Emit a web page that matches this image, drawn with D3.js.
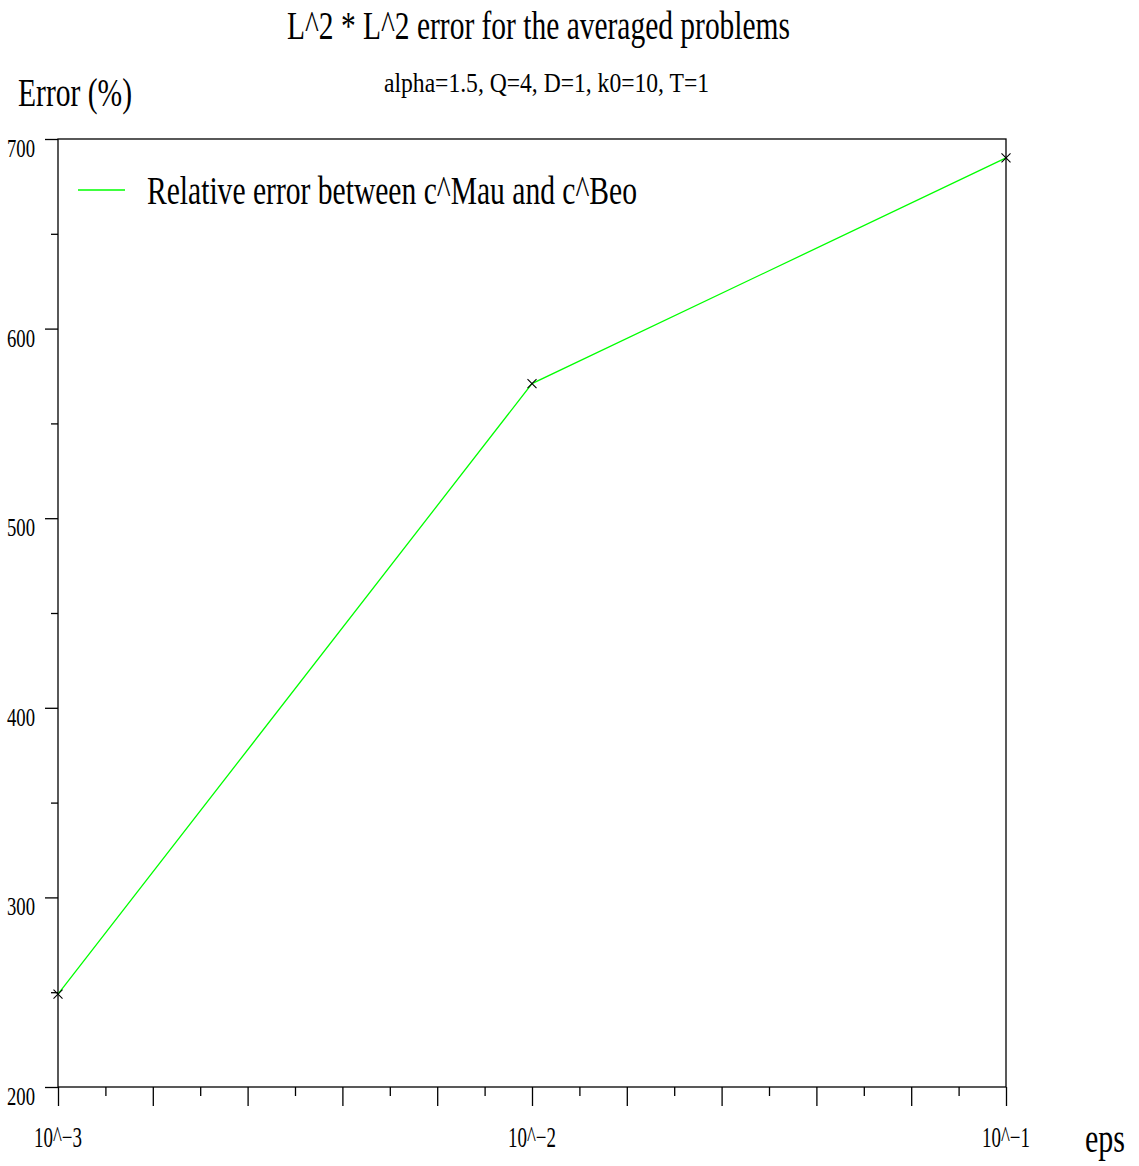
<!DOCTYPE html>
<html>
<head>
<meta charset="utf-8">
<script src="https://cdn.jsdelivr.net/npm/d3@7"></script>
<style>
  html, body { margin: 0; padding: 0; background: #fff; }
  svg text { font-family: "Liberation Serif", "Times New Roman", serif; fill: #000; }
</style>
</head>
<body>
<svg id="chart" width="1139" height="1166"></svg>
<script>
// eps values as base-10 exponents, and the relative error (%) at each
const epsExponents = [-3, -2, -1];
const errorPercent = [249, 571, 690];
const xTickLabels = ["10^\u22123", "10^\u22122", "10^\u22121"];
const yTickValues = [200, 300, 400, 500, 600, 700];

const titleText = "L^2 * L^2 error for the averaged problems";
const subtitleText = "alpha=1.5, Q=4, D=1, k0=10, T=1";
const seriesName = "Relative error between c^Mau and c^Beo";

const svg = d3.select("#chart");
const plot = { left: 58, right: 1006, top: 139, bottom: 1087 };

const x = d3.scaleLinear().domain([-3, -1]).range([plot.left, plot.right]);
const y = d3.scaleLinear().domain([200, 700]).range([plot.bottom, plot.top]);

// frame
svg.append("rect")
  .attr("x", plot.left).attr("y", plot.top)
  .attr("width", plot.right - plot.left).attr("height", plot.bottom - plot.top)
  .attr("fill", "none").attr("stroke", "#000").attr("stroke-width", 1.3);

// x ticks: ten per decade, alternating long / short
const xAll = d3.range(-30, -9).map(d => d / 10);
const xLong = xAll.filter((d, i) => i % 2 === 0);
const xShort = xAll.filter((d, i) => i % 2 === 1);

function styleAxis(g) {
  g.select(".domain").remove();
  g.selectAll("text").remove();
  g.selectAll("line").attr("stroke", "#000").attr("stroke-width", 1.3);
}

svg.append("g").attr("transform", `translate(0,${plot.bottom})`)
  .call(d3.axisBottom(x).tickValues(xLong).tickSize(19)).call(styleAxis);
svg.append("g").attr("transform", `translate(0,${plot.bottom})`)
  .call(d3.axisBottom(x).tickValues(xShort).tickSize(9)).call(styleAxis);

// y ticks: every 100 long, every 50 short
const yShort = yTickValues.slice(0, -1).map(v => v + 50);
svg.append("g").attr("transform", `translate(${plot.left},0)`)
  .call(d3.axisLeft(y).tickValues(yTickValues).tickSize(13)).call(styleAxis);
svg.append("g").attr("transform", `translate(${plot.left},0)`)
  .call(d3.axisLeft(y).tickValues(yShort).tickSize(7)).call(styleAxis);

// tick labels
svg.append("g").selectAll("text").data(epsExponents).join("text")
  .attr("x", d => x(d)).attr("y", 1147)
  .attr("text-anchor", "middle")
  .attr("font-size", 29)
  .attr("textLength", 48).attr("lengthAdjust", "spacingAndGlyphs")
  .text((d, i) => xTickLabels[i]);

svg.append("g").selectAll("text").data(yTickValues).join("text")
  .attr("x", 7).attr("y", d => y(d) + 18)
  .attr("font-size", 26)
  .attr("textLength", 28).attr("lengthAdjust", "spacingAndGlyphs")
  .text(d => d);

// titles and axis names
svg.append("text").attr("x", 287).attr("y", 39)
  .attr("font-size", 41).attr("textLength", 503).attr("lengthAdjust", "spacingAndGlyphs")
  .text(titleText);
svg.append("text").attr("x", 384).attr("y", 92)
  .attr("font-size", 28).attr("textLength", 325).attr("lengthAdjust", "spacingAndGlyphs")
  .text(subtitleText);
svg.append("text").attr("x", 18).attr("y", 106)
  .attr("font-size", 39).attr("textLength", 114).attr("lengthAdjust", "spacingAndGlyphs")
  .text("Error (%)");
svg.append("text").attr("x", 1085).attr("y", 1152)
  .attr("font-size", 39).attr("textLength", 40).attr("lengthAdjust", "spacingAndGlyphs")
  .text("eps");

// data line
const pts = epsExponents.map((e, i) => [e, errorPercent[i]]);
svg.append("path")
  .datum(pts)
  .attr("fill", "none").attr("stroke", "#00ff00").attr("stroke-width", 1.3)
  .attr("d", d3.line().x(d => x(d[0])).y(d => y(d[1])));

// cross markers
const s = 4.5;
svg.append("g").selectAll("path").data(pts).join("path")
  .attr("transform", d => `translate(${x(d[0])},${y(d[1])})`)
  .attr("d", `M${-s},${-s}L${s},${s}M${-s},${s}L${s},${-s}`)
  .attr("stroke", "#000").attr("stroke-width", 1.1).attr("fill", "none");

// legend
svg.append("line").attr("x1", 78).attr("x2", 125).attr("y1", 190).attr("y2", 190)
  .attr("stroke", "#00ff00").attr("stroke-width", 1.3);
svg.append("text").attr("x", 147).attr("y", 204)
  .attr("font-size", 41).attr("textLength", 490).attr("lengthAdjust", "spacingAndGlyphs")
  .text(seriesName);
</script>
</body>
</html>
